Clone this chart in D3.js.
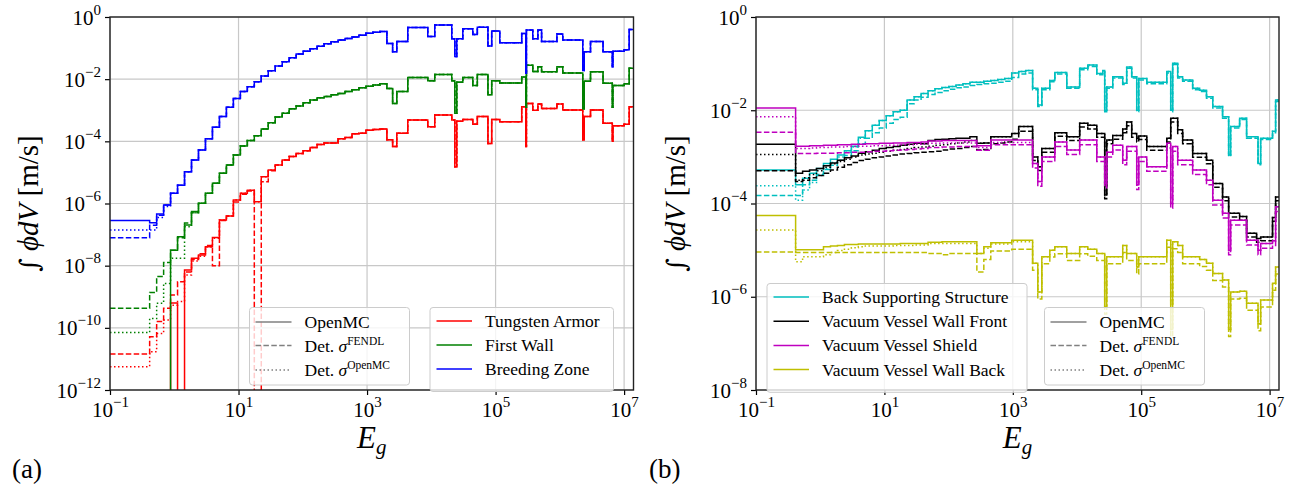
<!doctype html>
<html lang="en">
<head>
<meta charset="utf-8">
<title>Group-wise integrated flux</title>
<script src="https://cdn.jsdelivr.net/npm/d3@7"></script>
<style>
  body { margin: 0; background: #fff; }
  svg text { font-family: "Liberation Serif", "DejaVu Serif", serif; fill: #000; }
</style>
</head>
<body>
<svg id="chart" width="1292" height="494"></svg>
<script>
// energy group boundaries [eV] (lower edge of each step)
var lowEdges = [0.1, 0.414, 0.532, 0.683, 0.876, 1.125, 1.445, 1.855, 2.382, 3.059, 3.928, 5.044, 6.476, 8.315,
  10.68, 13.71, 17.60, 22.60, 29.02, 37.27, 47.85, 61.44, 78.89, 101.3, 130.1, 167.0, 214.5, 275.4, 353.6,
  454.0, 583.0, 748.5, 961.1, 1234, 1585];
var highEdgesA = [2035, 2500, 2900, 4300, 8800, 11300, 20800, 23200, 24900, 30900, 44200, 52000, 76000, 87000,
  116000, 255000, 295000, 302000, 379000, 455000, 520000, 900000, 1.11e6, 2.27e6, 2.4e6, 3.0e6, 4.7e6,
  6.55e6, 6.7e6, 1.0e7, 1.2e7];
var highEdgesB = [2035, 2450, 2830, 3770, 4510, 6920, 11000, 14700, 20300, 25200, 27000, 29000, 36000, 51500,
  59400, 71100, 85100, 91500, 122000, 250000, 288000, 309000, 370000, 442000, 633000, 813000, 1.04e6, 1.3e6,
  1.85e6, 2.3e6, 2.47e6, 3.41e6, 4.38e6, 6.27e6, 6.6e6, 7.25e6, 1.11e7, 1.24e7];
var eMin = 0.1, eMax = 1.4e7;

// log10 of the integrated flux per group, -20 = empty group
// (a) Tungsten Armor
var twOpenMC = [-20, -20, -20, -20, -9.2, -20, -8.14, -7.76, -7.66, -7.39, -7.09, -6.53, -6.4, -5.89, -5.67,
  -5.57, -5.94, -5.14, -4.92, -4.76, -4.6, -4.49, -4.39, -4.3, -4.2, -4.1, -4.05, -4.05, -3.92, -3.88, -3.76,
  -3.74, -3.64, -3.62, -3.6,
  -3.95, -4.17, -3.74, -3.31, -3.53, -3.15, -3.31, -4.82, -3.35, -3.3, -3.45, -3.2, -4.07, -3.3, -3.37, -2.89,
  -4.17, -2.78, -3.0, -2.8, -2.94, -2.8, -2.99, -3.95, -3.2, -2.99, -3.42, -4.0, -3.5, -3.45, -2.89];
var twFendl = [-10.84, -10.29, -9.8, -9.37, -8.94, -8.52, -8.2, -7.8, -7.62, -7.35, -8.0, -6.55, -6.4, -5.95,
  -5.7, -5.6, -20, -5.3, -4.95].concat(twOpenMC.slice(19));
var twDetOpenMC = [-11.25, -10.77, -10.18, -9.75, -9.27, -9.15, -8.3, -7.85, -7.7, -7.4, -7.12]
  .concat(twOpenMC.slice(11));
// (a) First Wall
var fwOpenMC = [-20, -20, -20, -20, -7.5, -7.07, -6.69, -6.26, -5.99, -5.67, -5.35, -5.03, -4.76, -4.44, -4.15,
  -3.97, -3.82, -3.6, -3.4, -3.22, -3.1, -2.95, -2.86, -2.76, -2.67, -2.6, -2.56, -2.5, -2.46, -2.4, -2.34,
  -2.28, -2.23, -2.19, -2.15,
  -2.3, -2.78, -2.4, -1.95, -2.05, -1.85, -2.05, -3.1, -2.1, -1.95, -2.2, -1.85, -2.5, -2.05, -2.12, -1.93,
  -2.9, -1.55, -1.75, -1.6, -1.76, -1.6, -1.8, -2.95, -2.07, -1.76, -2.13, -2.9, -2.2, -2.15, -1.65];
var fwFendl = [-9.37, -8.86, -8.35, -7.9, -7.5, -7.1, -6.63, -6.3].concat(fwOpenMC.slice(8));
var fwDetOpenMC = [-10.15, -9.7, -9.21, -8.57, -7.76, -7.76, -6.75, -6.3].concat(fwOpenMC.slice(8));
// (a) Breeding Zone
var bzOpenMC = [-6.55, -6.62, -6.34, -6.05, -5.67, -5.41, -4.98, -4.6, -4.28, -3.92, -3.55, -3.2, -2.9, -2.62,
  -2.4, -2.24, -2.08, -1.9, -1.73, -1.58, -1.44, -1.31, -1.19, -1.1, -1.02, -0.94, -0.86, -0.8, -0.74, -0.69,
  -0.64, -0.59, -0.52, -0.49, -0.47,
  -0.85, -1.12, -0.79, -0.34, -0.63, -0.26, -0.7, -1.27, -0.7, -0.38, -0.56, -0.33, -0.93, -0.45, -0.83, -0.53,
  -1.81, -0.42, -0.7, -0.42, -0.79, -0.55, -0.74, -1.72, -1.12, -0.79, -1.12, -1.6, -1.1, -1.05, -0.4];
var bzFendl = [-7.1, -6.7, -6.38, -6.05].concat(bzOpenMC.slice(4));
var bzDetOpenMC = [-6.85, -6.85, -6.45, -6.1].concat(bzOpenMC.slice(4));

// (b) Back Supporting Structure
var bssOpenMC = [-3.28, -3.6, -3.46, -3.35, -3.25, -3.14, -3.05, -2.96, -2.87, -2.77, -2.58, -2.44, -2.32,
  -2.22, -2.12, -2.03, -2.0, -1.78, -1.71, -1.64, -1.58, -1.54, -1.51, -1.49, -1.46, -1.43, -1.4, -1.4, -1.38,
  -1.36, -1.34, -1.32, -1.2, -1.17, -1.15,
  -1.53, -1.89, -1.53, -1.36, -1.19, -1.5, -1.1, -1.03, -1.21, -1.15, -2.0, -1.5, -1.28, -1.42, -1.07, -1.28,
  -2.0, -1.32, -1.4, -1.17, -2.0, -0.99, -1.28, -1.35, -1.53, -1.57, -1.71, -1.92, -2.14, -2.96, -2.35, -2.17,
  -2.57, -2.57, -3.14, -2.6, -2.45, -1.78];
var bssFendl = [-3.83, -3.83, -3.6, -3.5, -3.38, -3.27, -3.18, -3.07, -2.97, -2.87, -2.72, -2.6, -2.48, -2.38,
  -2.28, -2.2, -2.15, -1.86, -1.78, -1.72, -1.66, -1.62, -1.58, -1.55, -1.52, -1.5, -1.47, -1.45, -1.43, -1.42,
  -1.4, -1.38, -1.3, -1.22, -1.2,
  -1.56, -1.92, -1.56, -1.39, -1.22, -1.53, -1.13, -1.06, -1.24, -1.18, -2.03, -1.53, -1.31, -1.45, -1.1, -1.31,
  -2.03, -1.35, -1.43, -1.2, -2.03, -1.02, -1.31, -1.38, -1.56, -1.6, -1.74, -1.95, -2.17, -2.99, -2.38, -2.2,
  -2.6, -2.6, -3.17, -2.63, -2.48, -1.81];
var bssDetOpenMC = [-3.62, -3.93, -3.71, -3.55, -3.4, -3.25, -3.12, -3.0, -2.9, -2.79, -2.6]
  .concat(bssOpenMC.slice(11));
// (b) Vacuum Vessel Wall Front
var vvwfOpenMC = [-2.73, -3.35, -3.31, -3.28, -3.25, -3.19, -3.13, -3.07, -3.02, -2.98, -2.92, -2.89, -2.86,
  -2.82, -2.8, -2.78, -2.75, -2.73, -2.71, -2.72, -2.65, -2.63, -2.62, -2.61, -2.6, -2.6, -2.57, -2.71, -2.7,
  -2.57, -2.57, -2.57, -2.5, -2.35, -2.35,
  -3.0, -3.21, -2.82, -2.82, -2.48, -2.57, -2.28, -2.32, -2.5, -2.5, -3.82, -2.64, -2.54, -2.4, -2.25, -2.5,
  -2.6, -2.55, -2.78, -2.6, -2.17, -2.17, -2.42, -2.64, -2.93, -2.93, -3.07, -3.57, -3.86, -4.21, -4.21, -4.28,
  -4.64, -4.75, -4.75, -4.72, -4.3, -3.86];
var vvwfFendl = [-3.3, -3.53, -3.5, -3.45, -3.4, -3.35, -3.28, -3.22, -3.17, -3.12, -3.08, -3.05, -3.02, -3.0,
  -2.98, -2.96, -2.94, -2.93, -2.91, -2.9, -2.89, -2.88, -2.85, -2.83, -2.82, -2.8, -2.78, -2.85, -2.84, -2.72,
  -2.7, -2.68, -2.62, -2.45, -2.45,
  -3.08, -3.29, -2.9, -2.9, -2.56, -2.65, -2.36, -2.4, -2.58, -2.58, -3.9, -2.72, -2.62, -2.48, -2.33, -2.58,
  -2.68, -2.63, -2.86, -2.68, -2.25, -2.25, -2.5, -2.72, -3.01, -3.01, -3.15, -3.65, -3.94, -4.29, -4.29, -4.36,
  -4.72, -4.83, -4.83, -4.8, -4.38, -3.94];
var vvwfDetOpenMC = [-2.95, -3.5, -3.45, -3.38, -3.3, -3.22, -3.15, -3.1, -3.05, -3.0, -2.96, -2.94, -2.92,
  -2.9, -2.88, -2.86, -2.84, -2.82, -2.8, -2.79, -2.77, -2.75, -2.74, -2.72, -2.7, -2.68, -2.65]
  .concat(vvwfOpenMC.slice(27));
// (b) Vacuum Vessel Shield
var vvsOpenMC = [-1.95, -2.77, -2.77, -2.76, -2.76, -2.75, -2.75, -2.74, -2.74, -2.73, -2.73, -2.72, -2.72,
  -2.71, -2.71, -2.7, -2.7, -2.69, -2.69, -2.68, -2.66, -2.66, -2.65, -2.65, -2.65, -2.65, -2.65, -2.76, -2.76,
  -2.64, -2.64, -2.64, -2.64, -2.64, -2.64,
  -3.14, -3.53, -3.0, -3.0, -2.68, -2.85, -2.64, -2.64, -3.0, -3.0, -3.56, -2.9, -2.75, -3.07, -2.78, -2.78,
  -3.6, -3.0, -3.21, -2.71, -4.0, -2.78, -3.07, -3.07, -3.28, -3.28, -3.5, -3.93, -4.21, -5.0, -4.36, -4.36,
  -4.79, -4.79, -5.0, -4.86, -4.8, -4.07];
var vvsFendl = [-2.47, -2.93, -2.93, -2.93, -2.92, -2.92, -2.92, -2.91, -2.91, -2.9, -2.9, -2.89, -2.88, -2.88,
  -2.87, -2.86, -2.85, -2.84, -2.83, -2.82, -2.8, -2.8, -2.79, -2.79, -2.78, -2.78, -2.78, -2.86, -2.86, -2.74,
  -2.74, -2.74, -2.74, -2.74, -2.74,
  -3.24, -3.63, -3.1, -3.1, -2.78, -2.95, -2.74, -2.74, -3.1, -3.1, -3.66, -3.0, -2.85, -3.17, -2.88, -2.88,
  -3.7, -3.1, -3.31, -2.81, -4.1, -2.88, -3.17, -3.17, -3.38, -3.38, -3.6, -4.03, -4.31, -5.1, -4.46, -4.46,
  -4.89, -4.89, -5.1, -4.96, -4.9, -4.17];
var vvsDetOpenMC = [-2.14, -2.82, -2.82, -2.81, -2.8, -2.8, -2.79, -2.79, -2.78, -2.78, -2.77, -2.77, -2.76,
  -2.76, -2.75, -2.75, -2.74, -2.74, -2.73, -2.72, -2.71, -2.71, -2.7, -2.7, -2.7, -2.7, -2.7, -2.8, -2.8,
  -2.69, -2.69, -2.69, -2.69, -2.69, -2.69].concat(vvsOpenMC.slice(35));
// (b) Vacuum Vessel Wall Back
var vvwbOpenMC = [-4.26, -4.99, -4.99, -4.99, -4.99, -4.93, -4.91, -4.9, -4.88, -4.88, -4.87, -4.87, -4.87,
  -4.87, -4.87, -4.87, -4.86, -4.86, -4.86, -4.86, -4.83, -4.83, -4.82, -4.82, -4.82, -4.82, -4.82, -5.07,
  -4.93, -4.84, -4.84, -4.84, -4.79, -4.79, -4.79,
  -5.28, -5.9, -5.14, -5.0, -4.93, -5.07, -4.93, -4.98, -5.07, -5.07, -6.22, -5.14, -5.14, -4.9, -5.07, -5.07,
  -5.36, -5.14, -5.14, -4.79, -6.7, -4.82, -4.9, -5.14, -5.14, -5.2, -5.28, -5.5, -5.64, -6.7, -5.9, -5.88,
  -6.14, -6.14, -6.58, -6.07, -5.71, -5.36];
var vvwbFendl = [-5.04, -5.05, -5.05, -5.05, -5.05, -5.05, -5.05, -5.05, -5.05, -5.05, -5.05, -5.05, -5.05,
  -5.05, -5.05, -5.05, -5.05, -5.05, -5.05, -5.05, -5.07, -5.07, -5.1, -5.07, -5.07, -5.07, -5.07, -5.47, -5.2,
  -5.02, -5.02, -5.02, -4.98, -4.98, -4.98,
  -5.43, -6.05, -5.29, -5.15, -5.08, -5.22, -5.08, -5.13, -5.22, -5.22, -6.37, -5.29, -5.29, -5.05, -5.22, -5.22,
  -5.51, -5.29, -5.29, -4.94, -6.85, -4.97, -5.05, -5.29, -5.29, -5.35, -5.43, -5.65, -5.79, -6.85, -6.05, -6.03,
  -6.29, -6.29, -6.73, -6.22, -5.86, -5.51];
var vvwbDetOpenMC = [-4.57, -5.25, -5.14, -5.14, -5.14, -5.1, -5.05, -5.01, -4.98, -4.95, -4.93, -4.91, -4.91,
  -4.91, -4.91, -4.9, -4.9, -4.9, -4.89, -4.89, -4.86, -4.86, -4.86, -4.86, -4.86, -4.86, -4.86, -5.07, -4.96,
  -4.87, -4.87, -4.87, -4.82, -4.82, -4.82].concat(vvwbOpenMC.slice(35));

var xTickExp = [-1, 1, 3, 5, 7];
var yTickExpA = [0, -2, -4, -6, -8, -10, -12];
var yTickExpB = [0, -2, -4, -6, -8];

var regionsA = [
  { name: "Tungsten Armor", color: "#ff0000", runs: [twOpenMC, twFendl, twDetOpenMC] },
  { name: "First Wall", color: "#008000", runs: [fwOpenMC, fwFendl, fwDetOpenMC] },
  { name: "Breeding Zone", color: "#0000ff", runs: [bzOpenMC, bzFendl, bzDetOpenMC] }
];
var regionsB = [
  { name: "Back Supporting Structure", color: "#00bfbf", runs: [bssOpenMC, bssFendl, bssDetOpenMC] },
  { name: "Vacuum Vessel Wall Front", color: "#000000", runs: [vvwfOpenMC, vvwfFendl, vvwfDetOpenMC] },
  { name: "Vacuum Vessel Shield", color: "#bf00bf", runs: [vvsOpenMC, vvsFendl, vvsDetOpenMC] },
  { name: "Vacuum Vessel Wall Back", color: "#bfbf00", runs: [vvwbOpenMC, vvwbFendl, vvwbDetOpenMC] }
];
var dashes = [null, "5.5,2.4", "1.5,2.5"];

var svg = d3.select("#chart");

function expLabel(text, e, supSize, supDy) {
  text.append("tspan").text("10");
  text.append("tspan").attr("font-size", supSize).attr("dy", supDy)
    .text(e < 0 ? "\u2212" + (-e) : String(e));
}

function stepPoints(edges, vals) {
  var n = Math.min(edges.length, vals.length);
  var pts = [];
  for (var i = 0; i < n; i++) pts.push([edges[i], Math.pow(10, vals[i])]);
  pts.push([eMax, Math.pow(10, vals[n - 1])]);
  return pts;
}

function drawPanel(p) {
  var x = d3.scaleLog().domain([eMin, eMax]).range([p.left, p.right]);
  var y = d3.scaleLog().domain([Math.pow(10, p.yTicks[p.yTicks.length - 1]), 1]).range([p.bottom, p.top]);
  var g = svg.append("g");

  g.append("clipPath").attr("id", p.id + "-clip")
    .append("rect").attr("x", p.left).attr("y", p.top)
    .attr("width", p.right - p.left).attr("height", p.bottom - p.top);

  // grid
  g.append("g").selectAll("line").data(xTickExp).enter().append("line")
    .attr("x1", function(d) { return x(Math.pow(10, d)); })
    .attr("x2", function(d) { return x(Math.pow(10, d)); })
    .attr("y1", p.top).attr("y2", p.bottom)
    .attr("stroke", "#c8c8c8").attr("stroke-width", 1.2);
  g.append("g").selectAll("line").data(p.yTicks).enter().append("line")
    .attr("y1", function(d) { return y(Math.pow(10, d)); })
    .attr("y2", function(d) { return y(Math.pow(10, d)); })
    .attr("x1", p.left).attr("x2", p.right)
    .attr("stroke", "#c8c8c8").attr("stroke-width", 1.2);

  // data
  var line = d3.line().curve(d3.curveStepAfter)
    .x(function(d) { return x(d[0]); })
    .y(function(d) { return y(d[1]); });
  var dataG = g.append("g").attr("clip-path", "url(#" + p.id + "-clip)");
  p.regions.forEach(function(r) {
    r.runs.forEach(function(vals, k) {
      dataG.append("path")
        .attr("d", line(stepPoints(p.edges, vals)))
        .attr("fill", "none")
        .attr("stroke", r.color)
        .attr("stroke-width", 1.5)
        .attr("stroke-dasharray", dashes[k]);
    });
  });

  // axes
  var xAxis = g.append("g").attr("transform", "translate(0," + p.bottom + ")")
    .call(d3.axisBottom(x).tickValues(xTickExp.map(function(e) { return Math.pow(10, e); }))
      .tickFormat("").tickSize(5).tickSizeOuter(0));
  xAxis.select(".domain").remove();
  xAxis.selectAll(".tick").each(function(d) {
    var t = d3.select(this).append("text").attr("y", 27).attr("text-anchor", "middle")
      .attr("font-size", 21).attr("fill", "#000");
    expLabel(t, Math.round(Math.log10(d)), 15, -10);
  });
  var yAxis = g.append("g").attr("transform", "translate(" + p.left + ",0)")
    .call(d3.axisLeft(y).tickValues(p.yTicks.map(function(e) { return Math.pow(10, e); }))
      .tickFormat("").tickSize(5).tickSizeOuter(0));
  yAxis.select(".domain").remove();
  yAxis.selectAll(".tick").each(function(d) {
    var t = d3.select(this).append("text").attr("x", -9).attr("y", 7).attr("text-anchor", "end")
      .attr("font-size", 21).attr("fill", "#000");
    expLabel(t, Math.round(Math.log10(d)), 15, -10);
  });
  g.selectAll(".tick line").attr("stroke", "#000").attr("stroke-width", 1.2);

  g.append("rect").attr("x", p.left).attr("y", p.top)
    .attr("width", p.right - p.left).attr("height", p.bottom - p.top)
    .attr("fill", "none").attr("stroke", "#222").attr("stroke-width", 1.4);

  // axis labels
  var yl = g.append("text").attr("text-anchor", "middle").attr("font-size", 29)
    .attr("transform", "translate(" + p.yLabelX + "," + ((p.top + p.bottom) / 2) + ") rotate(-90)");
  yl.append("tspan").attr("font-family", "DejaVu Serif").attr("font-size", 26).text("\u222B");
  yl.append("tspan").attr("font-style", "italic").text(" \u03D5dV");
  yl.append("tspan").text(" [m/s]");
  var xl = g.append("text").attr("x", (p.left + p.right) / 2).attr("y", 448)
    .attr("text-anchor", "middle").attr("font-size", 31);
  xl.append("tspan").attr("font-style", "italic").text("E");
  xl.append("tspan").attr("font-style", "italic").attr("font-size", 21).attr("dy", 6).text("g");

  svg.append("text").attr("x", p.tagX).attr("y", 478).attr("font-size", 27).text(p.tag);
}

function legendBox(x0, y0, w, h) {
  return svg.append("rect").attr("x", x0).attr("y", y0).attr("width", w).attr("height", h)
    .attr("rx", 3).attr("fill", "#fff").attr("fill-opacity", 0.8)
    .attr("stroke", "#cccccc").attr("stroke-width", 1);
}

function styleLegend(x0, y0) {
  legendBox(x0, y0, 160, 77.5);
  var rows = [14.5, 38, 62.5];
  var labels = [["OpenMC", ""], ["Det. ", "FENDL"], ["Det. ", "OpenMC"]];
  rows.forEach(function(ry, k) {
    svg.append("line").attr("x1", x0 + 6).attr("x2", x0 + 42)
      .attr("y1", y0 + ry).attr("y2", y0 + ry)
      .attr("stroke", "#808080").attr("stroke-width", 1.5)
      .attr("stroke-dasharray", dashes[k]);
    var t = svg.append("text").attr("x", x0 + 55).attr("y", y0 + ry + 6).attr("font-size", 17.5)
      .attr("fill", "#222");
    t.append("tspan").text(labels[k][0]);
    if (labels[k][1]) {
      t.append("tspan").attr("font-style", "italic").text("\u03C3");
      t.append("tspan").attr("font-size", 11.5).attr("dy", -7).text(labels[k][1]);
    }
  });
}

function colorLegend(x0, y0, w, regions, step) {
  legendBox(x0, y0, w, 16 + step * regions.length - 4);
  regions.forEach(function(r, k) {
    var ry = y0 + 13.5 + k * step;
    svg.append("line").attr("x1", x0 + 6.5).attr("x2", x0 + 42).attr("y1", ry).attr("y2", ry)
      .attr("stroke", r.color).attr("stroke-width", 1.5);
    svg.append("text").attr("x", x0 + 55).attr("y", ry + 6).attr("font-size", 17.5)
      .attr("fill", "#222").text(r.name);
  });
}

drawPanel({ id: "pa", left: 110, right: 633.5, top: 17, bottom: 390, yTicks: yTickExpA,
  edges: lowEdges.concat(highEdgesA), regions: regionsA, yLabelX: 38, tag: "(a)", tagX: 12 });
drawPanel({ id: "pb", left: 756, right: 1279, top: 17, bottom: 390, yTicks: yTickExpB,
  edges: lowEdges.concat(highEdgesB), regions: regionsB, yLabelX: 685, tag: "(b)", tagX: 649 });

styleLegend(249.5, 307.5);
colorLegend(430, 307.5, 183.5, regionsA, 24);
colorLegend(767, 283.5, 260, regionsB, 24.2);
styleLegend(1044.5, 307.5);
</script>
</body>
</html>
